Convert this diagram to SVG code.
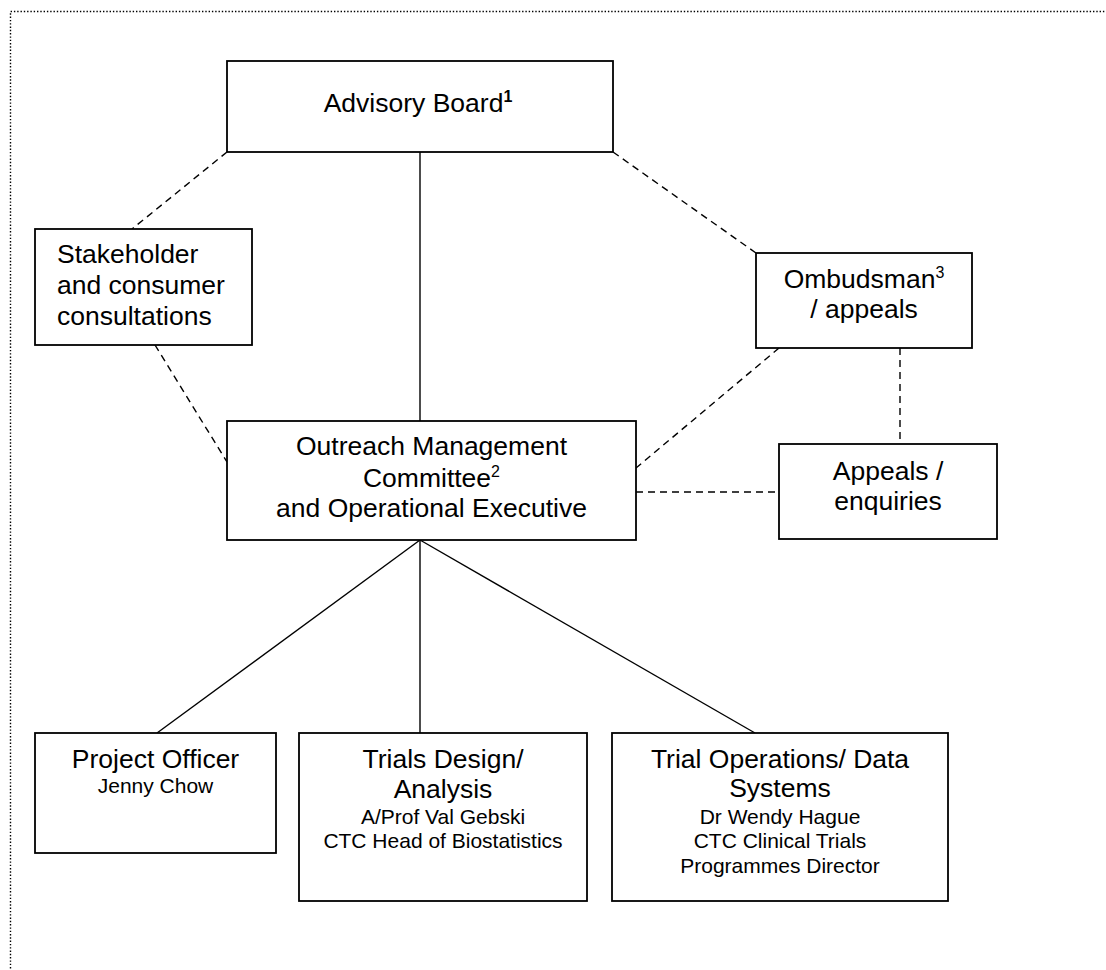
<svg xmlns="http://www.w3.org/2000/svg" width="1106" height="970" viewBox="0 0 1106 970">
<style>
.box{fill:#fff;stroke:#000;stroke-width:1.8}
.t{font-family:"Liberation Sans",Arial,sans-serif;font-size:26.5px;fill:#000}
.s{font-family:"Liberation Sans",Arial,sans-serif;font-size:21px;fill:#000}
.sup{font-size:16px}
.solid{fill:none;stroke:#000;stroke-width:1.4}
.dash{fill:none;stroke:#000;stroke-width:1.4;stroke-dasharray:7 5}
</style>
<rect width="1106" height="970" fill="#fff"/>
<path d="M10.5,975 V11.5 H1110" fill="none" stroke="#000" stroke-width="1.4" stroke-dasharray="1.4 1.9"/>
<g id="connectors">
<line class="solid" x1="420" y1="152" x2="420" y2="421"/>
<line class="solid" x1="420" y1="540" x2="420" y2="733"/>
<line class="solid" x1="420" y1="540" x2="157" y2="733"/>
<line class="solid" x1="420" y1="540" x2="755" y2="733"/>
<line class="dash" x1="227" y1="152" x2="132" y2="229"/>
<line class="dash" x1="613" y1="152" x2="756" y2="253"/>
<line class="dash" x1="155" y1="345" x2="227" y2="462"/>
<line class="dash" x1="779" y1="348" x2="636" y2="468"/>
<line class="dash" x1="900" y1="348" x2="900" y2="444"/>
<line class="dash" x1="636" y1="492" x2="779" y2="492"/>
</g>
<g id="advisory">
<rect class="box" x="227" y="61" width="386" height="91"/>
<text class="t" x="418" y="112" text-anchor="middle">Advisory Board<tspan class="sup" font-weight="bold" dy="-10">1</tspan></text>
</g>
<g id="stakeholder">
<rect class="box" x="35" y="229" width="217" height="116"/>
<text class="t" x="57" y="263">Stakeholder</text>
<text class="t" x="57" y="294">and consumer</text>
<text class="t" x="57" y="325">consultations</text>
</g>
<g id="ombudsman">
<rect class="box" x="756" y="253" width="216" height="95"/>
<text class="t" x="864" y="288" text-anchor="middle">Ombudsman<tspan class="sup" dy="-10">3</tspan></text>
<text class="t" x="864" y="318" text-anchor="middle">/ appeals</text>
</g>
<g id="outreach">
<rect class="box" x="227" y="421" width="409" height="119"/>
<text class="t" x="431.5" y="455" text-anchor="middle">Outreach Management</text>
<text class="t" x="431.5" y="487" text-anchor="middle">Committee<tspan class="sup" dy="-10">2</tspan></text>
<text class="t" x="431.5" y="517" text-anchor="middle">and Operational Executive</text>
</g>
<g id="appeals">
<rect class="box" x="779" y="444" width="218" height="95"/>
<text class="t" x="888" y="480" text-anchor="middle">Appeals /</text>
<text class="t" x="888" y="510" text-anchor="middle">enquiries</text>
</g>
<g id="project-officer">
<rect class="box" x="35" y="733" width="241" height="120"/>
<text class="t" x="155.5" y="768" text-anchor="middle">Project Officer</text>
<text class="s" x="155.5" y="793" text-anchor="middle">Jenny Chow</text>
</g>
<g id="trials-design">
<rect class="box" x="299" y="733" width="288" height="168"/>
<text class="t" x="443" y="768" text-anchor="middle">Trials Design/</text>
<text class="t" x="443" y="798" text-anchor="middle">Analysis</text>
<text class="s" x="443" y="824" text-anchor="middle">A/Prof Val Gebski</text>
<text class="s" x="443" y="848" text-anchor="middle">CTC Head of Biostatistics</text>
</g>
<g id="trial-operations">
<rect class="box" x="612" y="733" width="336" height="168"/>
<text class="t" x="780" y="768" text-anchor="middle">Trial Operations/ Data</text>
<text class="t" x="780" y="797" text-anchor="middle">Systems</text>
<text class="s" x="780" y="824" text-anchor="middle">Dr Wendy Hague</text>
<text class="s" x="780" y="848" text-anchor="middle">CTC Clinical Trials</text>
<text class="s" x="780" y="873" text-anchor="middle">Programmes Director</text>
</g>
</svg>
